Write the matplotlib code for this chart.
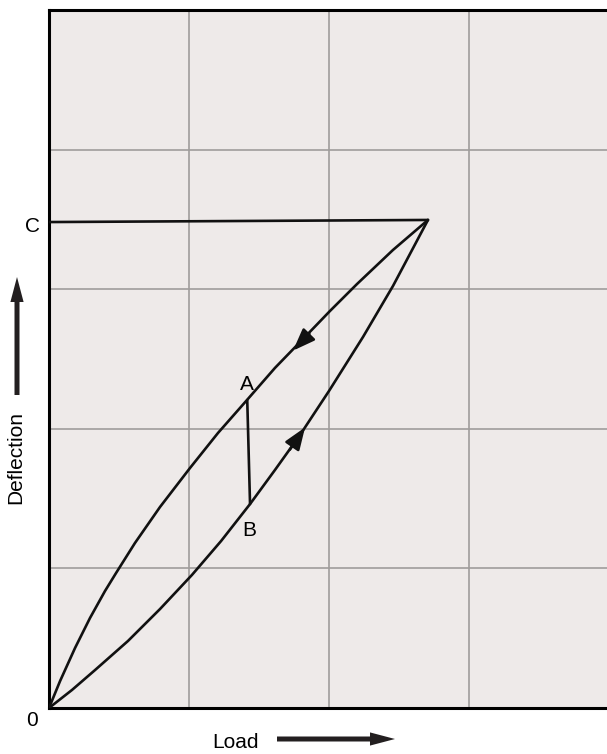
import numpy as np
import matplotlib
matplotlib.use('Agg')
import matplotlib.pyplot as plt

plt.rcParams['font.family'] = ['Liberation Sans', 'DejaVu Sans']

# loading curve (lower branch), origin -> peak
load_x = [0.0, 0.164, 0.329, 0.564, 0.793, 1.021, 1.229, 1.436, 1.614, 1.793,
          2.000, 2.243, 2.457, 2.707]
load_y = [0.0, 0.129, 0.272, 0.480, 0.709, 0.953, 1.196, 1.461, 1.705, 1.956,
          2.271, 2.658, 3.023, 3.496]

# unloading curve (upper branch), origin -> peak
unload_x = [0.0, 0.079, 0.186, 0.293, 0.400, 0.479, 0.614, 0.793, 1.007, 1.207, 1.414,
            1.614, 1.814, 2.007, 2.200, 2.457, 2.707]
unload_y = [0.0, 0.193, 0.430, 0.645, 0.838, 0.967, 1.182, 1.440, 1.719, 1.970, 2.206,
            2.436, 2.643, 2.844, 3.037, 3.281, 3.496]

# horizontal line from C to the peak
c_x = [0.0, 2.707]
c_y = [3.481, 3.496]

# A -> B drop
ab_x = [1.416, 1.436]
ab_y = [2.206, 1.461]

point_labels = ['A', 'B', 'C', '0']

fig = plt.figure(figsize=(6.07, 7.54), dpi=100)
ax = fig.add_axes([49/607, 46/754, 558/607, 698/754])
ax.set_facecolor('#eeeae9')
ax.set_xlim(0, 558/140)
ax.set_ylim(0, 5.0)
ax.set_xticks([1, 2, 3])
ax.set_yticks([1, 2, 3, 4])
ax.grid(True, color='#9f9c9b', linewidth=1.2)
ax.tick_params(length=0, labelbottom=False, labelleft=False)
for s in ['left', 'bottom', 'top']:
    ax.spines[s].set_linewidth(2.2)
ax.spines['right'].set_visible(False)

kw = dict(color='#111111', linewidth=1.9, solid_capstyle='round', solid_joinstyle='round', zorder=3)
ax.plot(load_x, load_y, **kw)
ax.plot(unload_x, unload_y, **kw)
ax.plot(c_x, c_y, **kw)
ax.plot(ab_x, ab_y, **kw)

# direction arrows on the curves
aprops = dict(arrowstyle='-|>,head_length=0.9,head_width=0.34', mutation_scale=15,
              color='#111111', linewidth=1.9, shrinkA=0, shrinkB=0)
ax.annotate('', xy=(1.829, 2.01), xytext=(1.72, 1.85), arrowprops=aprops, zorder=4)
ax.annotate('', xy=(1.743, 2.560), xytext=(1.86, 2.68), arrowprops=aprops, zorder=4)

fs = 15
ax.text(1.412, 2.32, point_labels[0], fontsize=fs, ha='center', va='center')
ax.text(1.43, 1.27, point_labels[1], fontsize=fs, ha='center', va='center')
ax.text(-0.121, 3.45, point_labels[2], fontsize=fs, ha='center', va='center', clip_on=False)
ax.text(-0.121, -0.086, point_labels[3], fontsize=fs, ha='center', va='center', clip_on=False)

# axis names with arrows
fig.text(235/607, 1 - 742/754, 'Load', fontsize=fs, ha='center', va='center')
fig.text(16/607, 1 - 458/754, 'Deflection', fontsize=fs, ha='center', va='center', rotation=90)
bprops = dict(arrowstyle='simple,head_length=1.8,head_width=0.95,tail_width=0.36', mutation_scale=10,
              color='#231f20', linewidth=0, shrinkA=0, shrinkB=0)
ax.annotate('', xy=(395/607, 1 - 739/754), xytext=(277/607, 1 - 739/754),
            xycoords='figure fraction', textcoords='figure fraction', arrowprops=bprops, annotation_clip=False)
ax.annotate('', xy=(17/607, 1 - 277/754), xytext=(17/607, 1 - 395/754),
            xycoords='figure fraction', textcoords='figure fraction', arrowprops=bprops, annotation_clip=False)

plt.savefig('out.png', dpi=100)
plt.close()
